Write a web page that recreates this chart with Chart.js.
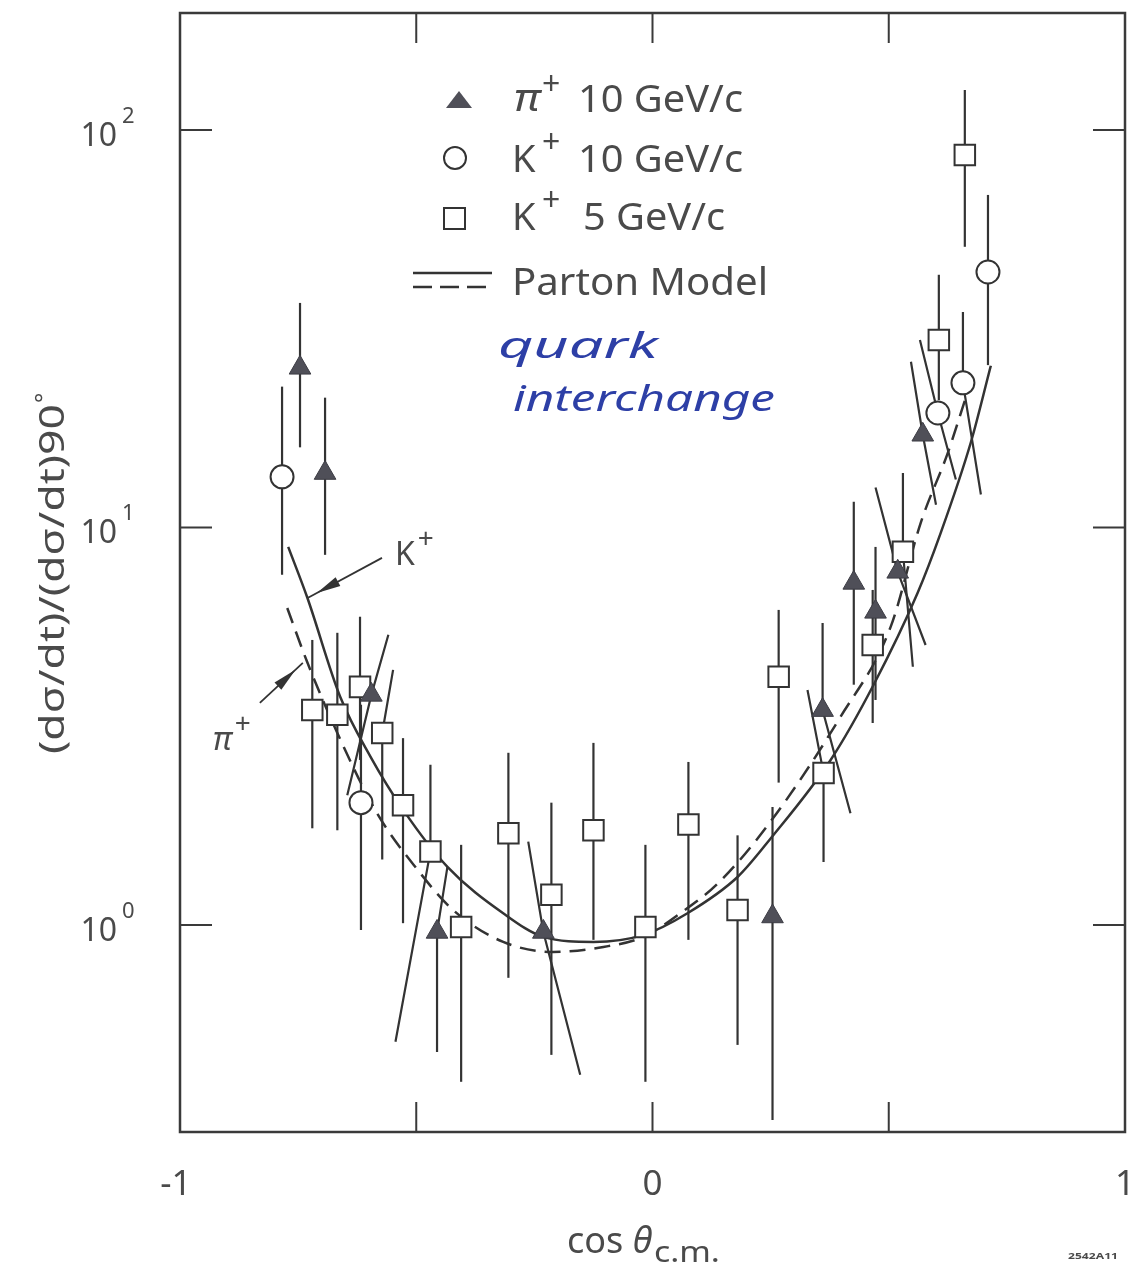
<!DOCTYPE html>
<html>
<head>
<meta charset="utf-8">
<script src="https://cdn.jsdelivr.net/npm/chart.js@4.4.0/dist/chart.umd.min.js"></script>
<style>
  html, body { margin: 0; padding: 0; background: #fff; overflow: hidden; }
  canvas { display: block; }
</style>
</head>
<body>
<canvas id="grafico" width="1128" height="1267"></canvas>
<script>
// Datos (cos theta, cociente de secciones eficaces)

// pi+ 10 GeV/c (triangulos)
const piX     = [-0.746, -0.693, -0.595, -0.456, -0.231, 0.254, 0.360, 0.426, 0.472, 0.519, 0.572];
const piY     = [25.2, 13.7, 3.79, 0.960, 0.960, 1.05, 3.47, 7.25, 6.13, 7.73, 17.1];
const piAlto  = [36.7, 21.2, 5.37, 1.40, 1.62, 1.98, 5.75, 11.6, 8.93, 12.6, 26.1];
const piAltoX = [-0.746, -0.693, -0.559, -0.434, -0.263, 0.254, 0.360, 0.426, 0.472, 0.472, 0.547];
const piBajo  = [15.9, 8.53, 2.12, 0.479, 0.420, 0.323, 1.91, 4.02, 3.68, 5.06, 11.4];
const piBajoX = [-0.746, -0.693, -0.646, -0.456, -0.153, 0.254, 0.419, 0.426, 0.472, 0.578, 0.600];

// K+ 10 GeV/c (circulos)
const k10X     = [-0.784, -0.617, 0.710, 0.657, 0.604];
const k10Y     = [13.4, 2.03, 43.9, 23.1, 19.4];
const k10Alto  = [22.6, 3.58, 68.6, 34.8, 29.6];
const k10AltoX = [-0.784, -0.617, 0.710, 0.657, 0.566];
const k10Bajo  = [7.6, 0.971, 25.6, 12.1, 13.2];
const k10BajoX = [-0.784, -0.617, 0.710, 0.695, 0.642];

// K+ 5 GeV/c (cuadrados)
const k5X     = [-0.720, -0.667, -0.619, -0.572, -0.528, -0.470, -0.405, -0.305, -0.214, -0.125, -0.015, 0.076, 0.180, 0.267, 0.362, 0.466, 0.530, 0.661, 0.606];
const k5Y     = [3.47, 3.38, 3.97, 3.04, 2.00, 1.53, 0.988, 1.70, 1.19, 1.73, 0.988, 1.79, 1.09, 4.21, 2.41, 5.06, 8.68, 86.5, 29.6];
const k5Alto  = [5.21, 5.43, 5.96, 4.38, 2.95, 2.53, 1.59, 2.71, 2.03, 2.87, 1.59, 2.57, 1.68, 6.20, 3.90, 6.96, 13.7, 126, 43.2];
const k5AltoX = [-0.720, -0.667, -0.619, -0.549, -0.528, -0.470, -0.405, -0.305, -0.214, -0.125, -0.015, 0.076, 0.180, 0.267, 0.328, 0.466, 0.530, 0.661, 0.606];
const k5Bajo  = [1.75, 1.73, 2.60, 1.46, 1.01, 0.508, 0.403, 0.736, 0.471, 0.917, 0.403, 0.917, 0.499, 2.28, 1.44, 3.22, 4.46, 50.8, 20.9];
const k5BajoX = [-0.720, -0.667, -0.619, -0.572, -0.528, -0.544, -0.405, -0.305, -0.214, -0.125, -0.015, 0.076, 0.180, 0.267, 0.362, 0.466, 0.551, 0.661, 0.606];

// Modelo de partones: K+ (linea continua) y pi+ (linea discontinua)
const kModeloX  = [-0.771, -0.731, -0.661, -0.597, -0.528, -0.434, -0.316, -0.231, -0.125, -0.019, 0.074, 0.180, 0.250, 0.377, 0.468, 0.561, 0.610, 0.674, 0.716];
const kModeloY  = [8.93, 6.68, 3.75, 2.65, 1.95, 1.40, 1.07, 0.933, 0.906, 0.944, 1.07, 1.32, 1.65, 2.60, 4.02, 6.84, 9.69, 16.4, 25.5];
const piModeloX = [-0.773, -0.731, -0.667, -0.583, -0.498, -0.422, -0.316, -0.210, -0.104, -0.019, 0.059, 0.138, 0.250, 0.398, 0.504, 0.568, 0.625, 0.663];
const piModeloY = [6.27, 4.59, 3.04, 1.91, 1.38, 1.09, 0.906, 0.855, 0.880, 0.933, 1.07, 1.27, 1.82, 3.34, 5.62, 10.3, 15.4, 21.2];

// Ejes
const xMarcas = [-0.5, 0, 0.5];
const xEtiquetas = [-1, 0, 1];
const xTextos = ['-1', '0', '1'];
const yMarcas = [1, 10, 100];
const yExponentes = ['0', '1', '2'];

const FUENTE = '"Noto Sans", "DejaVu Sans", sans-serif';
const TEXTO = '#4a4a4a';
const LINEA = '#333333';

// Anotaciones de las curvas (en coordenadas de datos)
const anotaciones = [
  { texto: 'K', desde: [-0.5725, 8.38], hasta: [-0.729, 6.65], etiqueta: [-0.545, 8.05] },
  { texto: 'π', desde: [-0.831, 3.62], hasta: [-0.740, 4.56], etiqueta: [-0.930, 2.76] }
];

const series = [
  { x: piX, y: piY, alto: piAlto, altoX: piAltoX, bajo: piBajo, bajoX: piBajoX },
  { x: k10X, y: k10Y, alto: k10Alto, altoX: k10AltoX, bajo: k10Bajo, bajoX: k10BajoX },
  { x: k5X, y: k5Y, alto: k5Alto, altoX: k5AltoX, bajo: k5Bajo, bajoX: k5BajoX }
];

const puntos = (xs, ys) => xs.map((x, i) => ({ x: x, y: ys[i] }));

// texto ajustado a un ancho dado
function texto(ctx, str, x, y, size, ancho, estilo) {
  ctx.font = (estilo || '') + ' ' + size + 'px ' + FUENTE;
  const w = ctx.measureText(str).width;
  ctx.save();
  ctx.translate(x, y);
  if (ancho) ctx.scale(ancho / w, 1);
  ctx.fillText(str, 0, 0);
  ctx.restore();
  return ancho || w;
}

function flecha(ctx, x1, y1, x2, y2) {
  ctx.beginPath();
  ctx.moveTo(x1, y1);
  ctx.lineTo(x2, y2);
  ctx.stroke();
  const a = Math.atan2(y2 - y1, x2 - x1);
  const L = 24, W = 5;
  const bx = x2 - 10 * Math.cos(a), by = y2 - 10 * Math.sin(a);
  ctx.beginPath();
  ctx.moveTo(bx, by);
  ctx.lineTo(bx - L * Math.cos(a) + W * Math.sin(a), by - L * Math.sin(a) - W * Math.cos(a));
  ctx.lineTo(bx - L * Math.cos(a) - W * Math.sin(a), by - L * Math.sin(a) + W * Math.cos(a));
  ctx.closePath();
  ctx.fill();
}

const decorado = {
  id: 'decorado',
  // barras de error debajo de los marcadores
  beforeDatasetsDraw(chart) {
    const ctx = chart.ctx, sx = chart.scales.x, sy = chart.scales.y;
    ctx.save();
    ctx.strokeStyle = LINEA;
    ctx.lineWidth = 2.2;
    series.forEach((s) => {
      for (let i = 0; i < s.x.length; i++) {
        ctx.beginPath();
        ctx.moveTo(sx.getPixelForValue(s.altoX[i]), sy.getPixelForValue(s.alto[i]));
        ctx.lineTo(sx.getPixelForValue(s.x[i]), sy.getPixelForValue(s.y[i]));
        ctx.lineTo(sx.getPixelForValue(s.bajoX[i]), sy.getPixelForValue(s.bajo[i]));
        ctx.stroke();
      }
    });
    ctx.restore();
  },
  // marco y marcas de los ejes
  afterDatasetsDraw(chart) {
    const ctx = chart.ctx, a = chart.chartArea, sx = chart.scales.x, sy = chart.scales.y;
    ctx.save();
    ctx.strokeStyle = '#3a3a3a';
    ctx.lineWidth = 2.5;
    ctx.strokeRect(a.left, a.top, a.right - a.left, a.bottom - a.top);
    ctx.lineWidth = 2;
    xMarcas.forEach((v) => {
      const p = sx.getPixelForValue(v);
      ctx.beginPath();
      ctx.moveTo(p, a.bottom); ctx.lineTo(p, a.bottom - 30);
      ctx.moveTo(p, a.top); ctx.lineTo(p, a.top + 30);
      ctx.stroke();
    });
    yMarcas.forEach((v) => {
      const p = sy.getPixelForValue(v);
      ctx.beginPath();
      ctx.moveTo(a.left, p); ctx.lineTo(a.left + 32, p);
      ctx.moveTo(a.right, p); ctx.lineTo(a.right - 32, p);
      ctx.stroke();
    });
    ctx.restore();
  },
  afterDraw(chart) {
    const ctx = chart.ctx, a = chart.chartArea, sx = chart.scales.x, sy = chart.scales.y;
    ctx.save();
    ctx.fillStyle = TEXTO;
    ctx.textBaseline = 'alphabetic';

    // etiquetas eje x
    ctx.font = '35px ' + FUENTE;
    ctx.textAlign = 'center';
    xEtiquetas.forEach((v, i) => {
      ctx.fillText(xTextos[i], sx.getPixelForValue(v) - (i === 0 ? 4 : 0), a.bottom + 63);
    });

    // etiquetas eje y: 10^n
    yMarcas.forEach((v, i) => {
      const p = sy.getPixelForValue(v);
      ctx.textAlign = 'right';
      ctx.font = '32px ' + FUENTE;
      ctx.fillText('10', 117, p + 16);
      ctx.textAlign = 'left';
      ctx.font = '22px ' + FUENTE;
      ctx.fillText(yExponentes[i], 122, p - 7);
    });

    // titulo eje y
    ctx.save();
    ctx.translate(64, 572);
    ctx.rotate(-Math.PI / 2);
    ctx.textAlign = 'left';
    const wPrincipal = texto(ctx, '(dσ/dt)/(dσ/dt)90', -182, 0, 35, 350);
    texto(ctx, '°', -182 + wPrincipal + 1, -12, 24);
    ctx.restore();

    // titulo eje x
    ctx.textAlign = 'left';
    const wCos = texto(ctx, 'cos ', 567, 1253, 36);
    const wTheta = texto(ctx, 'θ', 567 + wCos, 1253, 36, null, 'italic');
    texto(ctx, 'c.m.', 567 + wCos + wTheta + 2, 1262, 29, 66);
    texto(ctx, '2542A11', 1068, 1259, 9, 50, 'bold');

    // leyenda
    ctx.fillStyle = '#4f4f58';
    ctx.beginPath();
    ctx.moveTo(459, 91); ctx.lineTo(472, 108); ctx.lineTo(446, 108);
    ctx.closePath();
    ctx.fill();
    ctx.strokeStyle = LINEA;
    ctx.lineWidth = 2;
    ctx.beginPath();
    ctx.arc(455, 158, 11, 0, Math.PI * 2);
    ctx.stroke();
    ctx.strokeRect(444, 208, 21, 21);
    ctx.lineWidth = 2.5;
    ctx.beginPath();
    ctx.moveTo(413, 273); ctx.lineTo(492, 273);
    ctx.stroke();
    ctx.setLineDash([19, 8]);
    ctx.beginPath();
    ctx.moveTo(413, 287); ctx.lineTo(492, 287);
    ctx.stroke();
    ctx.setLineDash([]);

    ctx.fillStyle = TEXTO;
    texto(ctx, 'π', 514, 111, 38, 26, 'italic');
    texto(ctx, '+', 542, 95, 32);
    texto(ctx, '10 GeV/c', 578, 112, 38, 165);
    texto(ctx, 'K', 512, 172, 38);
    texto(ctx, '+', 542, 153, 32);
    texto(ctx, '10 GeV/c', 578, 172, 38, 165);
    texto(ctx, 'K', 512, 230, 38);
    texto(ctx, '+', 542, 211, 32);
    texto(ctx, '5 GeV/c', 583, 230, 38, 142);
    texto(ctx, 'Parton Model', 512, 295, 38, 256);

    // nota manuscrita
    ctx.fillStyle = '#2d3fa6';
    texto(ctx, 'quark', 498, 358, 36, 160, 'italic');
    texto(ctx, 'interchange', 513, 411, 36, 262, 'italic');

    // flechas K+ y pi+
    ctx.fillStyle = LINEA;
    ctx.strokeStyle = LINEA;
    ctx.lineWidth = 1.8;
    anotaciones.forEach((n) => {
      flecha(ctx,
        sx.getPixelForValue(n.desde[0]), sy.getPixelForValue(n.desde[1]),
        sx.getPixelForValue(n.hasta[0]), sy.getPixelForValue(n.hasta[1]));
    });
    ctx.fillStyle = TEXTO;
    anotaciones.forEach((n) => {
      const x = sx.getPixelForValue(n.etiqueta[0]), y = sy.getPixelForValue(n.etiqueta[1]);
      const w = texto(ctx, n.texto, x, y, 32, null, n.texto === 'π' ? 'italic' : '');
      texto(ctx, '+', x + w + 3, y - 17, 28);
    });
    ctx.restore();
  }
};

new Chart(document.getElementById('grafico'), {
  type: 'scatter',
  data: {
    datasets: [
      {
        label: 'π+ 10 GeV/c',
        data: puntos(piX, piY),
        pointStyle: 'triangle',
        pointRadius: 12.5,
        backgroundColor: '#4f4f58',
        borderColor: '#3c3c44',
        borderWidth: 1,
        order: 1
      },
      {
        label: 'K+ 10 GeV/c',
        data: puntos(k10X, k10Y),
        pointStyle: 'circle',
        pointRadius: 11.5,
        backgroundColor: '#ffffff',
        borderColor: LINEA,
        borderWidth: 2,
        order: 1
      },
      {
        label: 'K+ 5 GeV/c',
        data: puntos(k5X, k5Y),
        pointStyle: 'rect',
        pointRadius: 14.5,
        backgroundColor: '#ffffff',
        borderColor: LINEA,
        borderWidth: 2,
        order: 1
      },
      {
        type: 'line',
        label: 'Parton Model K+',
        data: puntos(kModeloX, kModeloY),
        borderColor: LINEA,
        borderWidth: 2.5,
        pointRadius: 0,
        cubicInterpolationMode: 'monotone',
        fill: false,
        order: 5
      },
      {
        type: 'line',
        label: 'Parton Model π+',
        data: puntos(piModeloX, piModeloY),
        borderColor: LINEA,
        borderWidth: 2.5,
        borderDash: [16, 9],
        pointRadius: 0,
        cubicInterpolationMode: 'monotone',
        fill: false,
        order: 5
      }
    ]
  },
  options: {
    responsive: false,
    devicePixelRatio: 1,
    animation: false,
    events: [],
    layout: { autoPadding: false, padding: { left: 180, right: 3, top: 13, bottom: 135 } },
    scales: {
      x: { type: 'linear', min: -1, max: 1, display: false },
      y: { type: 'logarithmic', min: 0.3013, max: 196.8, display: false, bounds: 'data' }
    },
    plugins: {
      legend: { display: false },
      tooltip: { enabled: false }
    }
  },
  plugins: [decorado]
});
</script>
</body>
</html>
